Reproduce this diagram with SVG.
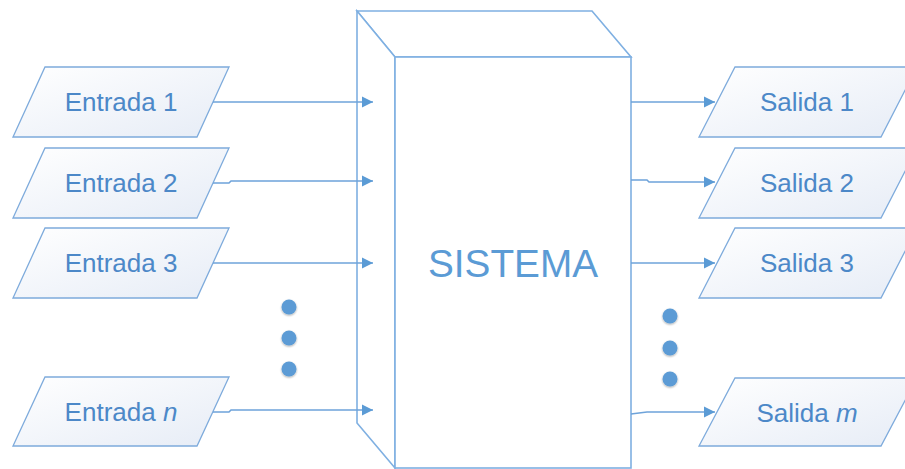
<svg xmlns="http://www.w3.org/2000/svg" width="905" height="469" viewBox="0 0 905 469">
  <style>
    .io { stroke: #7eabdc; stroke-width: 1.3; fill: url(#ioFill); }
    .lbl { font-family: "Liberation Sans", Arial, sans-serif; font-size: 26px; fill: #4c88c8; text-anchor: middle; }
    .box { fill: #ffffff; stroke: #7fb0e2; stroke-width: 1.6; stroke-linejoin: miter; }
    .wire { fill: none; stroke: #6ea3da; stroke-width: 1.6; }
    .dot { fill: #5b9bd5; filter: url(#soft); }
  </style>
  <defs>
    <linearGradient id="ioFill" x1="0" y1="0" x2="1" y2="1">
      <stop offset="0" stop-color="#ffffff"/>
      <stop offset="1" stop-color="#e6ecf6"/>
    </linearGradient>
    <marker id="tri" markerUnits="userSpaceOnUse" markerWidth="12" markerHeight="12" refX="11" refY="6" orient="auto">
      <path d="M0,0.5 L11,6 L0,11.5 Z" fill="#5b9bd5"/>
    </marker>
    <filter id="soft" x="-50%" y="-50%" width="200%" height="200%">
      <feGaussianBlur in="SourceAlpha" stdDeviation="1.2" result="b"/>
      <feOffset dy="1" result="o"/>
      <feComponentTransfer in="o" result="s"><feFuncA type="linear" slope="0.35"/></feComponentTransfer>
      <feMerge><feMergeNode in="s"/><feMergeNode in="SourceGraphic"/></feMerge>
    </filter>
  </defs>

  <!-- system block drawn as a box in perspective -->
  <g id="sistema">
    <polygon class="box" points="357,11 592,11 631,57 395,57"/>
    <polygon class="box" points="357,11 395,57 395,468 357,423"/>
    <rect class="box" x="395" y="57" width="236" height="411"/>
    <text x="513" y="277" style="font-family:'Liberation Sans', Arial, sans-serif; font-size:38px; fill:#5b9bd5; text-anchor:middle" textLength="170" lengthAdjust="spacingAndGlyphs">SISTEMA</text>
  </g>

  <!-- inputs -->
  <g id="entrada1">
    <polygon class="io" points="45,67 229,67 197,137 13,137"/>
    <text class="lbl" x="121" y="111">Entrada 1</text>
  </g>
  <g id="entrada2">
    <polygon class="io" points="45,148 229,148 197,218 13,218"/>
    <text class="lbl" x="121" y="192">Entrada 2</text>
  </g>
  <g id="entrada3">
    <polygon class="io" points="45,228 229,228 197,298 13,298"/>
    <text class="lbl" x="121" y="272">Entrada 3</text>
  </g>
  <g id="entradaN">
    <polygon class="io" points="45,377 229,377 197,446 13,446"/>
    <text class="lbl" x="121" y="421">Entrada <tspan font-style="italic">n</tspan></text>
  </g>

  <!-- outputs -->
  <g id="salida1">
    <polygon class="io" points="735,67 917,67 881,137 699,137"/>
    <text class="lbl" x="807" y="111">Salida 1</text>
  </g>
  <g id="salida2">
    <polygon class="io" points="735,148 917,148 881,218 699,218"/>
    <text class="lbl" x="807" y="192">Salida 2</text>
  </g>
  <g id="salida3">
    <polygon class="io" points="735,228 917,228 881,298 699,298"/>
    <text class="lbl" x="807" y="272">Salida 3</text>
  </g>
  <g id="salidaM">
    <polygon class="io" points="735,378 917,378 881,446 699,446"/>
    <text class="lbl" x="807" y="422">Salida <tspan font-style="italic">m</tspan></text>
  </g>

  <!-- ellipsis markers -->
  <g id="puntos-entrada">
    <circle class="dot" cx="289" cy="307" r="7.5"/>
    <circle class="dot" cx="289" cy="338" r="7.5"/>
    <circle class="dot" cx="289" cy="369" r="7.5"/>
  </g>
  <g id="puntos-salida">
    <circle class="dot" cx="670" cy="316" r="7.5"/>
    <circle class="dot" cx="670" cy="348" r="7.5"/>
    <circle class="dot" cx="670" cy="379" r="7.5"/>
  </g>

  <!-- connectors -->
  <g id="conectores">
    <path class="wire" marker-end="url(#tri)" d="M213,102 L373,102"/>
    <path class="wire" marker-end="url(#tri)" d="M213,183 L229,183 L231,181 L373,181"/>
    <path class="wire" marker-end="url(#tri)" d="M213,263 L373,263"/>
    <path class="wire" marker-end="url(#tri)" d="M213,412 L229,412 L231,410 L373,410"/>
    <path class="wire" marker-end="url(#tri)" d="M631,102 L715,102"/>
    <path class="wire" marker-end="url(#tri)" d="M631,180 L647,180 L649,182 L715,182"/>
    <path class="wire" marker-end="url(#tri)" d="M631,263 L715,263"/>
    <path class="wire" marker-end="url(#tri)" d="M631,414 L647,412 L715,412"/>
  </g>
</svg>
